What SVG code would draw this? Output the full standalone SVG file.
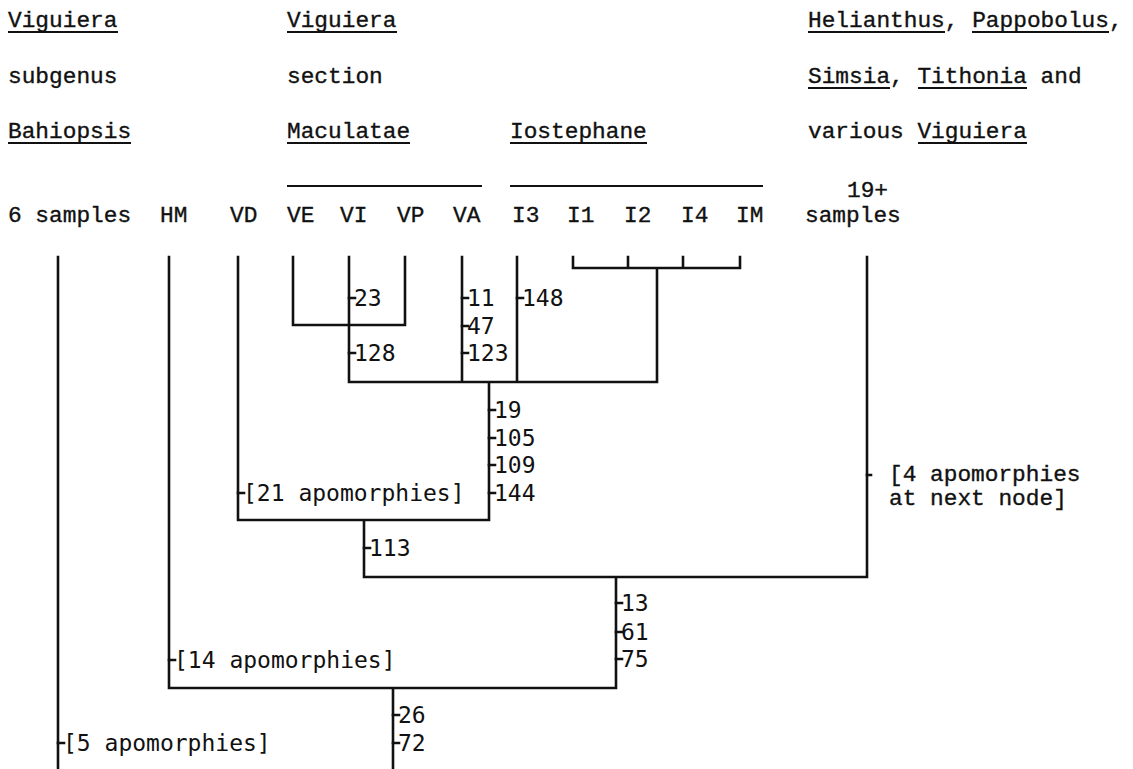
<svg xmlns="http://www.w3.org/2000/svg" width="1133" height="769" viewBox="0 0 1133 769">
<style>
.h{font-family:"Liberation Mono","Courier New",monospace;font-size:22.8px;fill:#111;stroke:#111;stroke-width:0.35px}
.l{font-family:"DejaVu Sans Mono","Liberation Mono",monospace;font-size:23px;fill:#111}
.ln{stroke:#111;stroke-width:2.6;fill:none;stroke-linecap:square}
.ul{stroke:#111;stroke-width:2;fill:none}
</style>
<rect width="1133" height="769" fill="#fff"/>
<g id="header-bahiopsis">
<text class="h" x="8" y="27">Viguiera</text>
<text class="h" x="8" y="83">subgenus</text>
<text class="h" x="8" y="138">Bahiopsis</text>
<line class="ul" x1="8" y1="32" x2="118" y2="32"/>
<line class="ul" x1="8" y1="143" x2="131" y2="143"/>
</g>
<g id="header-maculatae">
<text class="h" x="287" y="27">Viguiera</text>
<text class="h" x="287" y="83">section</text>
<text class="h" x="287" y="138">Maculatae</text>
<line class="ul" x1="287" y1="32" x2="397" y2="32"/>
<line class="ul" x1="287" y1="143" x2="410" y2="143"/>
<line class="ul" x1="287" y1="186" x2="482" y2="186"/>
</g>
<g id="header-iostephane">
<text class="h" x="510" y="138">Iostephane</text>
<line class="ul" x1="510" y1="143" x2="647" y2="143"/>
<line class="ul" x1="510" y1="186" x2="763" y2="186"/>
</g>
<g id="header-outgroup">
<text class="h" x="808" y="27">Helianthus, Pappobolus,</text>
<text class="h" x="808" y="83">Simsia, Tithonia and</text>
<text class="h" x="808" y="138">various Viguiera</text>
<line class="ul" x1="808" y1="32" x2="945" y2="32"/>
<line class="ul" x1="972" y1="32" x2="1109" y2="32"/>
<line class="ul" x1="808" y1="88" x2="890" y2="88"/>
<line class="ul" x1="918" y1="88" x2="1027" y2="88"/>
<line class="ul" x1="918" y1="143" x2="1027" y2="143"/>
</g>
<g id="taxon-6samples"><text class="h" x="8" y="222">6 samples</text></g>
<g id="taxon-HM"><text class="h" x="160" y="222">HM</text></g>
<g id="taxon-VD"><text class="h" x="230" y="222">VD</text></g>
<g id="taxon-VE"><text class="h" x="287" y="222">VE</text></g>
<g id="taxon-VI"><text class="h" x="340" y="222">VI</text></g>
<g id="taxon-VP"><text class="h" x="397" y="222">VP</text></g>
<g id="taxon-VA"><text class="h" x="453" y="222">VA</text></g>
<g id="taxon-I3"><text class="h" x="512" y="222">I3</text></g>
<g id="taxon-I1"><text class="h" x="567" y="222">I1</text></g>
<g id="taxon-I2"><text class="h" x="624" y="222">I2</text></g>
<g id="taxon-I4"><text class="h" x="681" y="222">I4</text></g>
<g id="taxon-IM"><text class="h" x="736" y="222">IM</text></g>
<g id="taxon-19samples">
<text class="h" x="847" y="197">19+</text>
<text class="h" x="805" y="222">samples</text>
</g>
<g id="connectors">
<path class="ln" d="M58 257V769 M169 257V688 M238 257V520 M293 257V325H405V257 M349 257V382 M462 257V382 M517 257V382 M573 257V268H740V257 M628 257V268 M683 257V268 M657 268V382 M349 382H657 M489 382V520 M238 520H489 M364 520V577 M364 577H867V257 M616 577V688 M169 688H616 M393 688V769"/>
<path class="ln" stroke-width="2" d="M349 298h6 M349 353h6 M462 298h6 M462 326h6 M462 353h6 M517 298h6 M489 410h6 M489 438h6 M489 465h6 M489 493h6 M238 493h6 M364 548h6 M616 603h6 M616 632h6 M616 659h6 M169 660h6 M393 715h6 M393 743h6 M58 743h6 M867 475h4"/>
</g>
<g id="labels">
<text class="l" x="354" y="306">23</text>
<text class="l" x="354" y="361">128</text>
<text class="l" x="467" y="306">11</text>
<text class="l" x="467" y="334">47</text>
<text class="l" x="467" y="361">123</text>
<text class="l" x="522" y="306">148</text>
<text class="l" x="494" y="418">19</text>
<text class="l" x="494" y="446">105</text>
<text class="l" x="494" y="473">109</text>
<text class="l" x="494" y="501">144</text>
<text class="l" x="243" y="501">[21 apomorphies]</text>
<text class="l" x="369" y="556">113</text>
<text class="l" x="621" y="611">13</text>
<text class="l" x="621" y="640">61</text>
<text class="l" x="621" y="667">75</text>
<text class="l" x="174" y="668">[14 apomorphies]</text>
<text class="l" x="398" y="723">26</text>
<text class="l" x="398" y="751">72</text>
<text class="l" x="63" y="751">[5 apomorphies]</text>
</g>
<g id="note-4apomorphies">
<text class="h" x="889" y="481">[4 apomorphies</text>
<text class="h" x="889" y="505">at next node]</text>
</g>
</svg>
